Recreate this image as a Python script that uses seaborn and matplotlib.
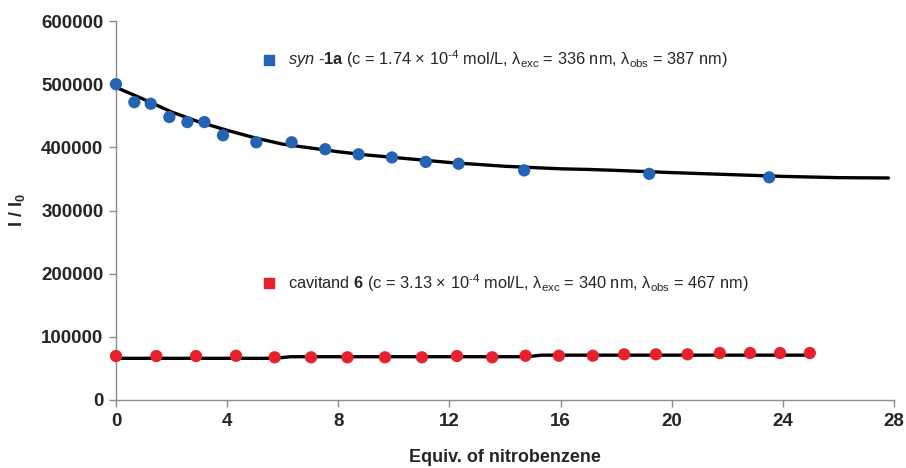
import matplotlib
matplotlib.use("Agg")
import matplotlib.pyplot as plt
import seaborn as sns
import pandas as pd

# ---- data ----
syn_x = [0, 0.66, 1.25, 1.92, 2.57, 3.18, 3.85, 5.05, 6.32, 7.53, 8.73, 9.93, 11.15, 12.33, 14.69, 19.19, 23.51]
syn_y = [500000, 471500, 469000, 448000, 440000, 440000, 419000, 408000, 408000, 397000, 389000, 384000, 377000, 374000, 363500, 358000, 352500]

fit_syn_x = [0, 1, 2, 3, 4, 5, 6, 7, 8, 9, 10, 11, 12, 13, 14, 15, 16, 17, 18, 20, 22, 24, 26, 27.8]
fit_syn_y = [495000, 476000, 456000, 440000, 427000, 415000, 405000, 399000, 393000, 388000, 384000, 380000, 376000, 373000, 370000, 368000, 366000, 365000, 363500, 360000, 357000, 354000, 352000, 351500]

cav_x = [0, 1.45, 2.88, 4.32, 5.71, 7.02, 8.33, 9.68, 11.01, 12.27, 13.54, 14.74, 15.94, 17.16, 18.29, 19.43, 20.57, 21.73, 22.82, 23.9, 24.97]
cav_y = [69600, 69600, 69600, 70000, 67600, 67600, 67600, 67600, 67600, 69600, 67600, 70100, 70100, 70100, 72300, 72300, 72300, 74400, 74400, 74400, 74400]

fit_cav_x = [0, 5.7, 6.3, 14.8, 15.3, 24.97]
fit_cav_y = [66000, 66000, 68500, 68500, 71000, 71000]

x_ticks = [0, 4, 8, 12, 16, 20, 24, 28]
y_ticks = [0, 100000, 200000, 300000, 400000, 500000, 600000]

label_syn = r"$\it{syn}$ $\bf{\text{-}1a}$ (c = 1.74 × 10$^{\text{-}4}$ mol/L, λ$_{\rm exc}$ = 336 nm, λ$_{\rm obs}$ = 387 nm)"
label_cav = r"cavitand $\bf{6}$ (c = 3.13 × 10$^{\text{-}4}$ mol/L, λ$_{\rm exc}$ = 340 nm, λ$_{\rm obs}$ = 467 nm)"

BLUE = "#2563B5"
RED = "#E8212E"

sns.set_theme(style="white")
plt.rcParams['font.family'] = ['Liberation Sans', 'DejaVu Sans']
plt.rcParams['mathtext.fontset'] = 'custom'
plt.rcParams['mathtext.rm'] = 'Liberation Sans'
plt.rcParams['mathtext.it'] = 'Liberation Sans:italic'
plt.rcParams['mathtext.bf'] = 'Liberation Sans:bold'

fig = plt.figure(figsize=(9.06, 4.68), dpi=100)
ax = fig.add_axes([116/906, 1-400/468, (894-116)/906, (400-21)/468])

sns.lineplot(x=fit_syn_x, y=fit_syn_y, ax=ax, color="black", lw=2.4, zorder=2)
sns.lineplot(x=fit_cav_x, y=fit_cav_y, ax=ax, color="black", lw=2.4, zorder=2)
sns.scatterplot(x=syn_x, y=syn_y, ax=ax, color=BLUE, s=78, edgecolor="none", zorder=3, clip_on=False)
sns.scatterplot(x=cav_x, y=cav_y, ax=ax, color=RED, s=78, edgecolor="none", zorder=3, clip_on=False)

ax.set_xlim(0, 28)
ax.set_ylim(0, 600000)
ax.set_xticks(x_ticks)
ax.set_yticks(y_ticks)
ax.set_xticklabels([str(t) for t in x_ticks], fontweight="bold", fontsize=13.5)
ax.set_yticklabels([str(t) for t in y_ticks], fontweight="bold", fontsize=13.5)
for s in ["top", "right"]:
    ax.spines[s].set_visible(False)
for s in ["left", "bottom"]:
    ax.spines[s].set_color("#8c8c8c")
    ax.spines[s].set_linewidth(1.0)
ax.tick_params(axis="both", direction="out", length=5, width=1, color="#8c8c8c", pad=4, left=True, bottom=True)
ax.set_xlabel("Equiv. of nitrobenzene", fontweight="bold", fontsize=13, labelpad=14)
ax.set_ylabel(r"I / I$_{\bf 0}$", fontweight="bold", fontsize=13, labelpad=10)

# legend-like annotations
ax.scatter([5.5], [539000], marker="s", s=45, color=BLUE, clip_on=False, zorder=4)
ax.text(6.2, 539000, label_syn, fontsize=11.8, va="center", ha="left")
ax.scatter([5.5], [185000], marker="s", s=45, color=RED, clip_on=False, zorder=4)
ax.text(6.2, 185000, label_cav, fontsize=11.8, va="center", ha="left")

fig.savefig("out.png", dpi=100)
